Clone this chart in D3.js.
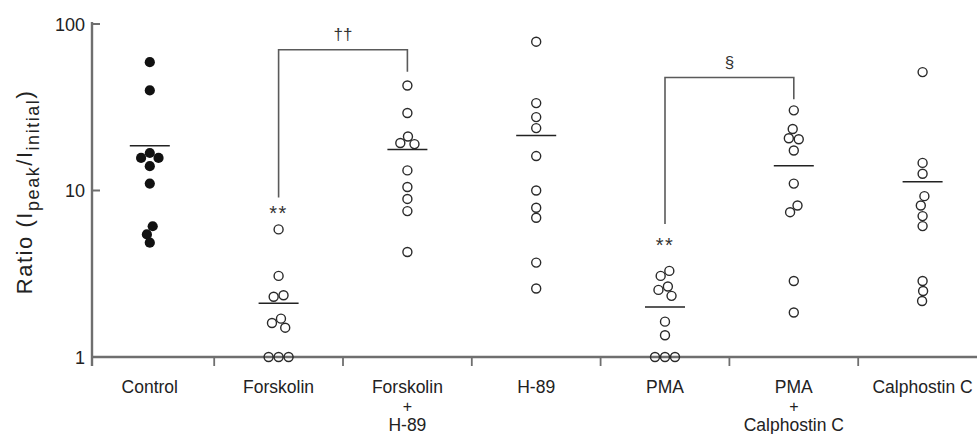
<!DOCTYPE html>
<html><head><meta charset="utf-8">
<script src="https://cdn.jsdelivr.net/npm/d3@7"></script>
<style>html,body{margin:0;padding:0;background:#fff;overflow:hidden}svg{display:block}</style>
</head><body>
<svg id="chart" width="977" height="434"></svg>
<script>
// ---------- data ----------
const groups = ["Control","Forskolin","Forskolin + H-89","H-89","PMA","PMA + Calphostin C","Calphostin C"];
const groupLabelLines = [["Control"],["Forskolin"],["Forskolin","+","H-89"],["H-89"],["PMA"],["PMA","+","Calphostin C"],["Calphostin C"]];
const controlValues      = [59.0, 39.9, 16.8, 15.7, 15.7, 14.0, 11.0, 6.1, 5.45, 4.86];
const forskolinValues    = [5.84, 3.07, 2.35, 2.3, 1.7, 1.6, 1.5, 1, 1, 1];
const forskolinH89Values = [42.7, 29.2, 21.1, 19.3, 19.0, 13.2, 10.5, 8.9, 7.52, 4.27];
const h89Values          = [78.3, 33.5, 27.6, 23.7, 16.1, 10.0, 7.88, 6.86, 3.69, 2.58];
const pmaValues          = [3.29, 3.07, 2.65, 2.53, 2.33, 1.63, 1.35, 1, 1, 1];
const pmaCalphValues     = [30.3, 23.4, 20.6, 20.3, 17.4, 11.0, 8.13, 7.41, 2.86, 1.85];
const calphValues        = [51.4, 14.65, 12.6, 9.25, 8.13, 7.02, 6.11, 2.86, 2.49, 2.17];
const meanValues = [18.6, 2.10, 17.6, 21.4, 2.0, 14.1, 11.3];
const filledGroups = ["Control"];
const yTickValues = [1, 10, 100];
const yTickLabels = ["1", "10", "100"];
const starGroups = ["Forskolin", "PMA"];
const starLevels = [7.69, 4.95];
const bracketFrom = ["Forskolin", "PMA"];
const bracketTo = ["Forskolin + H-89", "PMA + Calphostin C"];
const bracketSymbols = ["\u2020\u2020", "\u00A7"];
const bracketTops = [70, 47.7];
const bracketFromEnds = [9.07, 6.3];
const bracketToEnds = [51.6, 35.3];

const seriesValues = [controlValues, forskolinValues, forskolinH89Values, h89Values, pmaValues, pmaCalphValues, calphValues];

// ---------- layout ----------
const font = "'Liberation Sans', Arial, Helvetica, sans-serif";
const svg = d3.select("#chart");
const axisColor = "#6f6f6f";
const x = d3.scaleBand().domain(groups).range([85.4, 987]).padding(0);
const cx = g => x(g) + x.bandwidth() / 2;
const y = d3.scaleLog().domain([1, 100]).range([357, 24]);
const axisX0 = 92;

// ---------- axes ----------
svg.append("line").attr("x1", axisX0).attr("x2", axisX0).attr("y1", y(100) - 2).attr("y2", y(1) + 9)
  .attr("stroke", axisColor).attr("stroke-width", 2.4);
svg.selectAll(".ytick").data(yTickValues).join("line")
  .attr("x1", axisX0).attr("x2", axisX0 + 8).attr("y1", d => y(d)).attr("y2", d => y(d))
  .attr("stroke", axisColor).attr("stroke-width", 2);
svg.selectAll(".ylab").data(yTickValues).join("text")
  .attr("x", axisX0 - 7).attr("y", d => y(d) + 6.5)
  .attr("text-anchor", "end").attr("font-family", font).attr("font-size", 18).attr("fill", "#222")
  .text((d, i) => yTickLabels[i]);

svg.append("line").attr("x1", axisX0).attr("x2", 977).attr("y1", y(1)).attr("y2", y(1))
  .attr("stroke", axisColor).attr("stroke-width", 2.6);
svg.selectAll(".xtick").data(groups.slice(1)).join("line")
  .attr("x1", d => x(d)).attr("x2", d => x(d)).attr("y1", y(1)).attr("y2", y(1) + 9)
  .attr("stroke", axisColor).attr("stroke-width", 1.8);

// x labels (one text element per line)
groups.forEach((g, gi) => {
  groupLabelLines[gi].forEach((line, li) => {
    svg.append("text").attr("x", cx(g)).attr("y", 393 + li * 19)
      .attr("text-anchor", "middle").attr("font-family", font)
      .attr("font-size", line === "+" ? 16 : 17.5).attr("fill", "#222").text(line);
  });
});

// y axis title
const yt = svg.append("text").attr("transform", "translate(32,192) rotate(-90)")
  .attr("text-anchor", "middle").attr("font-family", font).attr("font-size", 22).attr("fill", "#222");
yt.append("tspan").text("Ratio (I");
yt.append("tspan").attr("font-size", 18).attr("dy", 7).text("peak");
yt.append("tspan").attr("dy", -7).text("/I");
yt.append("tspan").attr("font-size", 18).attr("dy", 7).text("initial");
yt.append("tspan").attr("dy", -7).text(")");
const natural = yt.node().getComputedTextLength();
const nChars = yt.text().length;
yt.attr("letter-spacing", Math.max(0, (203 - natural) / (nChars - 1)));

// ---------- dodge (beeswarm) ----------
function dodge(values, minDist) {
  const order = values.map((v, i) => i).sort((a, b) => values[b] - values[a]);
  const placed = [];
  for (const i of order) {
    const yi = y(values[i]);
    const cands = [0];
    for (const p of placed) {
      const dy = Math.abs(p.y - yi);
      if (dy < minDist) {
        const dx = Math.sqrt(minDist * minDist - dy * dy);
        cands.push(p.x - dx, p.x + dx);
      }
    }
    cands.sort((a, b) => Math.abs(a) - Math.abs(b) || a - b);
    const chosen = cands.find(c => placed.every(p => Math.hypot(p.x - c, p.y - yi) >= minDist - 1e-6));
    placed.push({ i, x: chosen, y: yi });
  }
  const parent = placed.map((_, k) => k);
  const find = k => parent[k] === k ? k : (parent[k] = find(parent[k]));
  for (let a = 0; a < placed.length; a++)
    for (let b = a + 1; b < placed.length; b++)
      if (Math.hypot(placed[a].x - placed[b].x, placed[a].y - placed[b].y) < minDist + 0.01)
        parent[find(a)] = find(b);
  const comps = d3.group(placed.map((p, k) => ({ p, r: find(k) })), d => d.r);
  for (const [, list] of comps) {
    const ext = d3.extent(list, d => d.p.x);
    const shift = -(ext[0] + ext[1]) / 2;
    list.forEach(d => d.p.x += shift);
  }
  const out = new Array(values.length);
  placed.forEach(p => out[p.i] = p.x);
  return out;
}

// ---------- points ----------
groups.forEach((g, gi) => {
  const vals = seriesValues[gi];
  const offs = dodge(vals, 10);
  const filled = filledGroups.includes(g);
  svg.append("g").selectAll("circle").data(vals).join("circle")
    .attr("cx", (d, i) => cx(g) + offs[i]).attr("cy", d => y(d))
    .attr("r", filled ? 5.1 : 4.5)
    .attr("fill", filled ? "#111" : "none")
    .attr("stroke", filled ? "none" : "#2a2a2a").attr("stroke-width", 1.4);
});

// mean lines
svg.selectAll(".mean").data(meanValues).join("line")
  .attr("x1", (d, i) => cx(groups[i]) - 20).attr("x2", (d, i) => cx(groups[i]) + 20)
  .attr("y1", d => y(d)).attr("y2", d => y(d))
  .attr("stroke", "#222").attr("stroke-width", 1.5);

// significance stars
svg.selectAll(".star").data(starGroups).join("text")
  .attr("x", d => cx(d)).attr("y", (d, i) => y(starLevels[i]) + 11)
  .attr("text-anchor", "middle").attr("font-family", font).attr("font-size", 20)
  .attr("letter-spacing", 1.5).attr("fill", "#333").text("**");

// brackets
bracketFrom.forEach((f, i) => {
  const x1 = cx(f), x2 = cx(bracketTo[i]);
  const path = d3.path();
  path.moveTo(x1, y(bracketFromEnds[i]));
  path.lineTo(x1, y(bracketTops[i]));
  path.lineTo(x2, y(bracketTops[i]));
  path.lineTo(x2, y(bracketToEnds[i]));
  svg.append("path").attr("d", path.toString()).attr("fill", "none")
    .attr("stroke", "#5a5a5a").attr("stroke-width", 1.6);
  svg.append("text").attr("x", (x1 + x2) / 2).attr("y", y(bracketTops[i]) - 10)
    .attr("text-anchor", "middle").attr("font-family", font).attr("font-size", 17)
    .attr("fill", "#333").text(bracketSymbols[i]);
});
</script>
</body></html>
